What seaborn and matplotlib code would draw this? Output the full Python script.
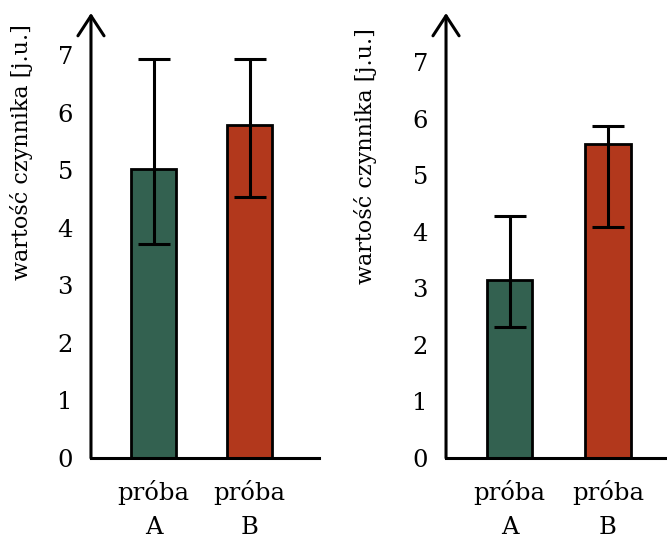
import matplotlib
matplotlib.use("Agg")
import matplotlib.pyplot as plt
import seaborn as sns
import pandas as pd

sns.set_style("white")
plt.rcParams['font.family'] = ['DejaVu Serif']
plt.rcParams['text.color'] = 'black'
plt.rcParams['axes.labelcolor'] = 'black'
plt.rcParams['xtick.color'] = 'black'
plt.rcParams['ytick.color'] = 'black'

categories = ["próba\nA", "próba\nB"]
colors = ["#336150", "#B2381C"]
y_label = "wartość czynnika [j.u.]"
y_ticks = [0, 1, 2, 3, 4, 5, 6, 7]

# left panel
left_means = [5.02, 5.78]
left_low = [3.72, 4.53]
left_high = [6.93, 6.93]

# right panel
right_means = [3.15, 5.55]
right_low = [2.32, 4.08]
right_high = [4.28, 5.87]

FS = 17.5

fig = plt.figure(figsize=(6.67, 5.4), dpi=100)
ax1 = fig.add_axes([0.1364, 0.1519, 0.3418, 0.8240])
ax2 = fig.add_axes([0.6687, 0.1519, 0.3313, 0.8240])


def panel(ax, means, low, high, xlim, ytop, label_xy):
    df = pd.DataFrame({"cat": categories, "val": means})
    sns.barplot(data=df, x="cat", y="val", hue="cat", palette=colors,
                saturation=1, width=0.465, edgecolor="black", linewidth=2.0,
                legend=False, ax=ax, errorbar=None)
    yerr = [[m - l for m, l in zip(means, low)],
            [h - m for m, h in zip(means, high)]]
    ax.errorbar(x=[0, 1], y=means, yerr=yerr, fmt="none", ecolor="black",
                elinewidth=2.2, capsize=11.5, capthick=2.2, zorder=5)
    ax.set_xlim(*xlim)
    ax.set_ylim(0, ytop)
    ax.set_yticks(y_ticks)
    ax.set_yticklabels([str(t) for t in y_ticks], fontsize=FS)
    ax.set_xticks([0, 1])
    ax.set_xticklabels(categories, fontsize=FS, linespacing=1.62)
    ax.tick_params(axis="both", length=0)
    ax.tick_params(axis="y", pad=13)
    ax.tick_params(axis="x", pad=16)
    ax.set_xlabel("")
    ax.set_ylabel(y_label, fontsize=16)
    ax.yaxis.set_label_coords(*label_xy)
    for s in ["top", "right", "left"]:
        ax.spines[s].set_visible(False)
    ax.spines["bottom"].set_linewidth(2.2)
    ax.spines["bottom"].set_color("black")
    ax.set_facecolor("none")
    ax.annotate("", xy=(0, 1), xytext=(0, 0), xycoords="axes fraction",
                textcoords="axes fraction",
                arrowprops=dict(arrowstyle="->,head_length=0.72,head_width=0.47",
                                lw=2.2, color="black", shrinkA=0, shrinkB=0,
                                mutation_scale=20),
                annotation_clip=False)


panel(ax1, left_means, left_low, left_high, (-0.65, 1.72), 7.73, (-0.254, 0.688))
panel(ax2, right_means, right_low, right_high, (-0.645, 1.6), 7.87, (-0.312, 0.679))

fig.savefig("out.png", dpi=100)
